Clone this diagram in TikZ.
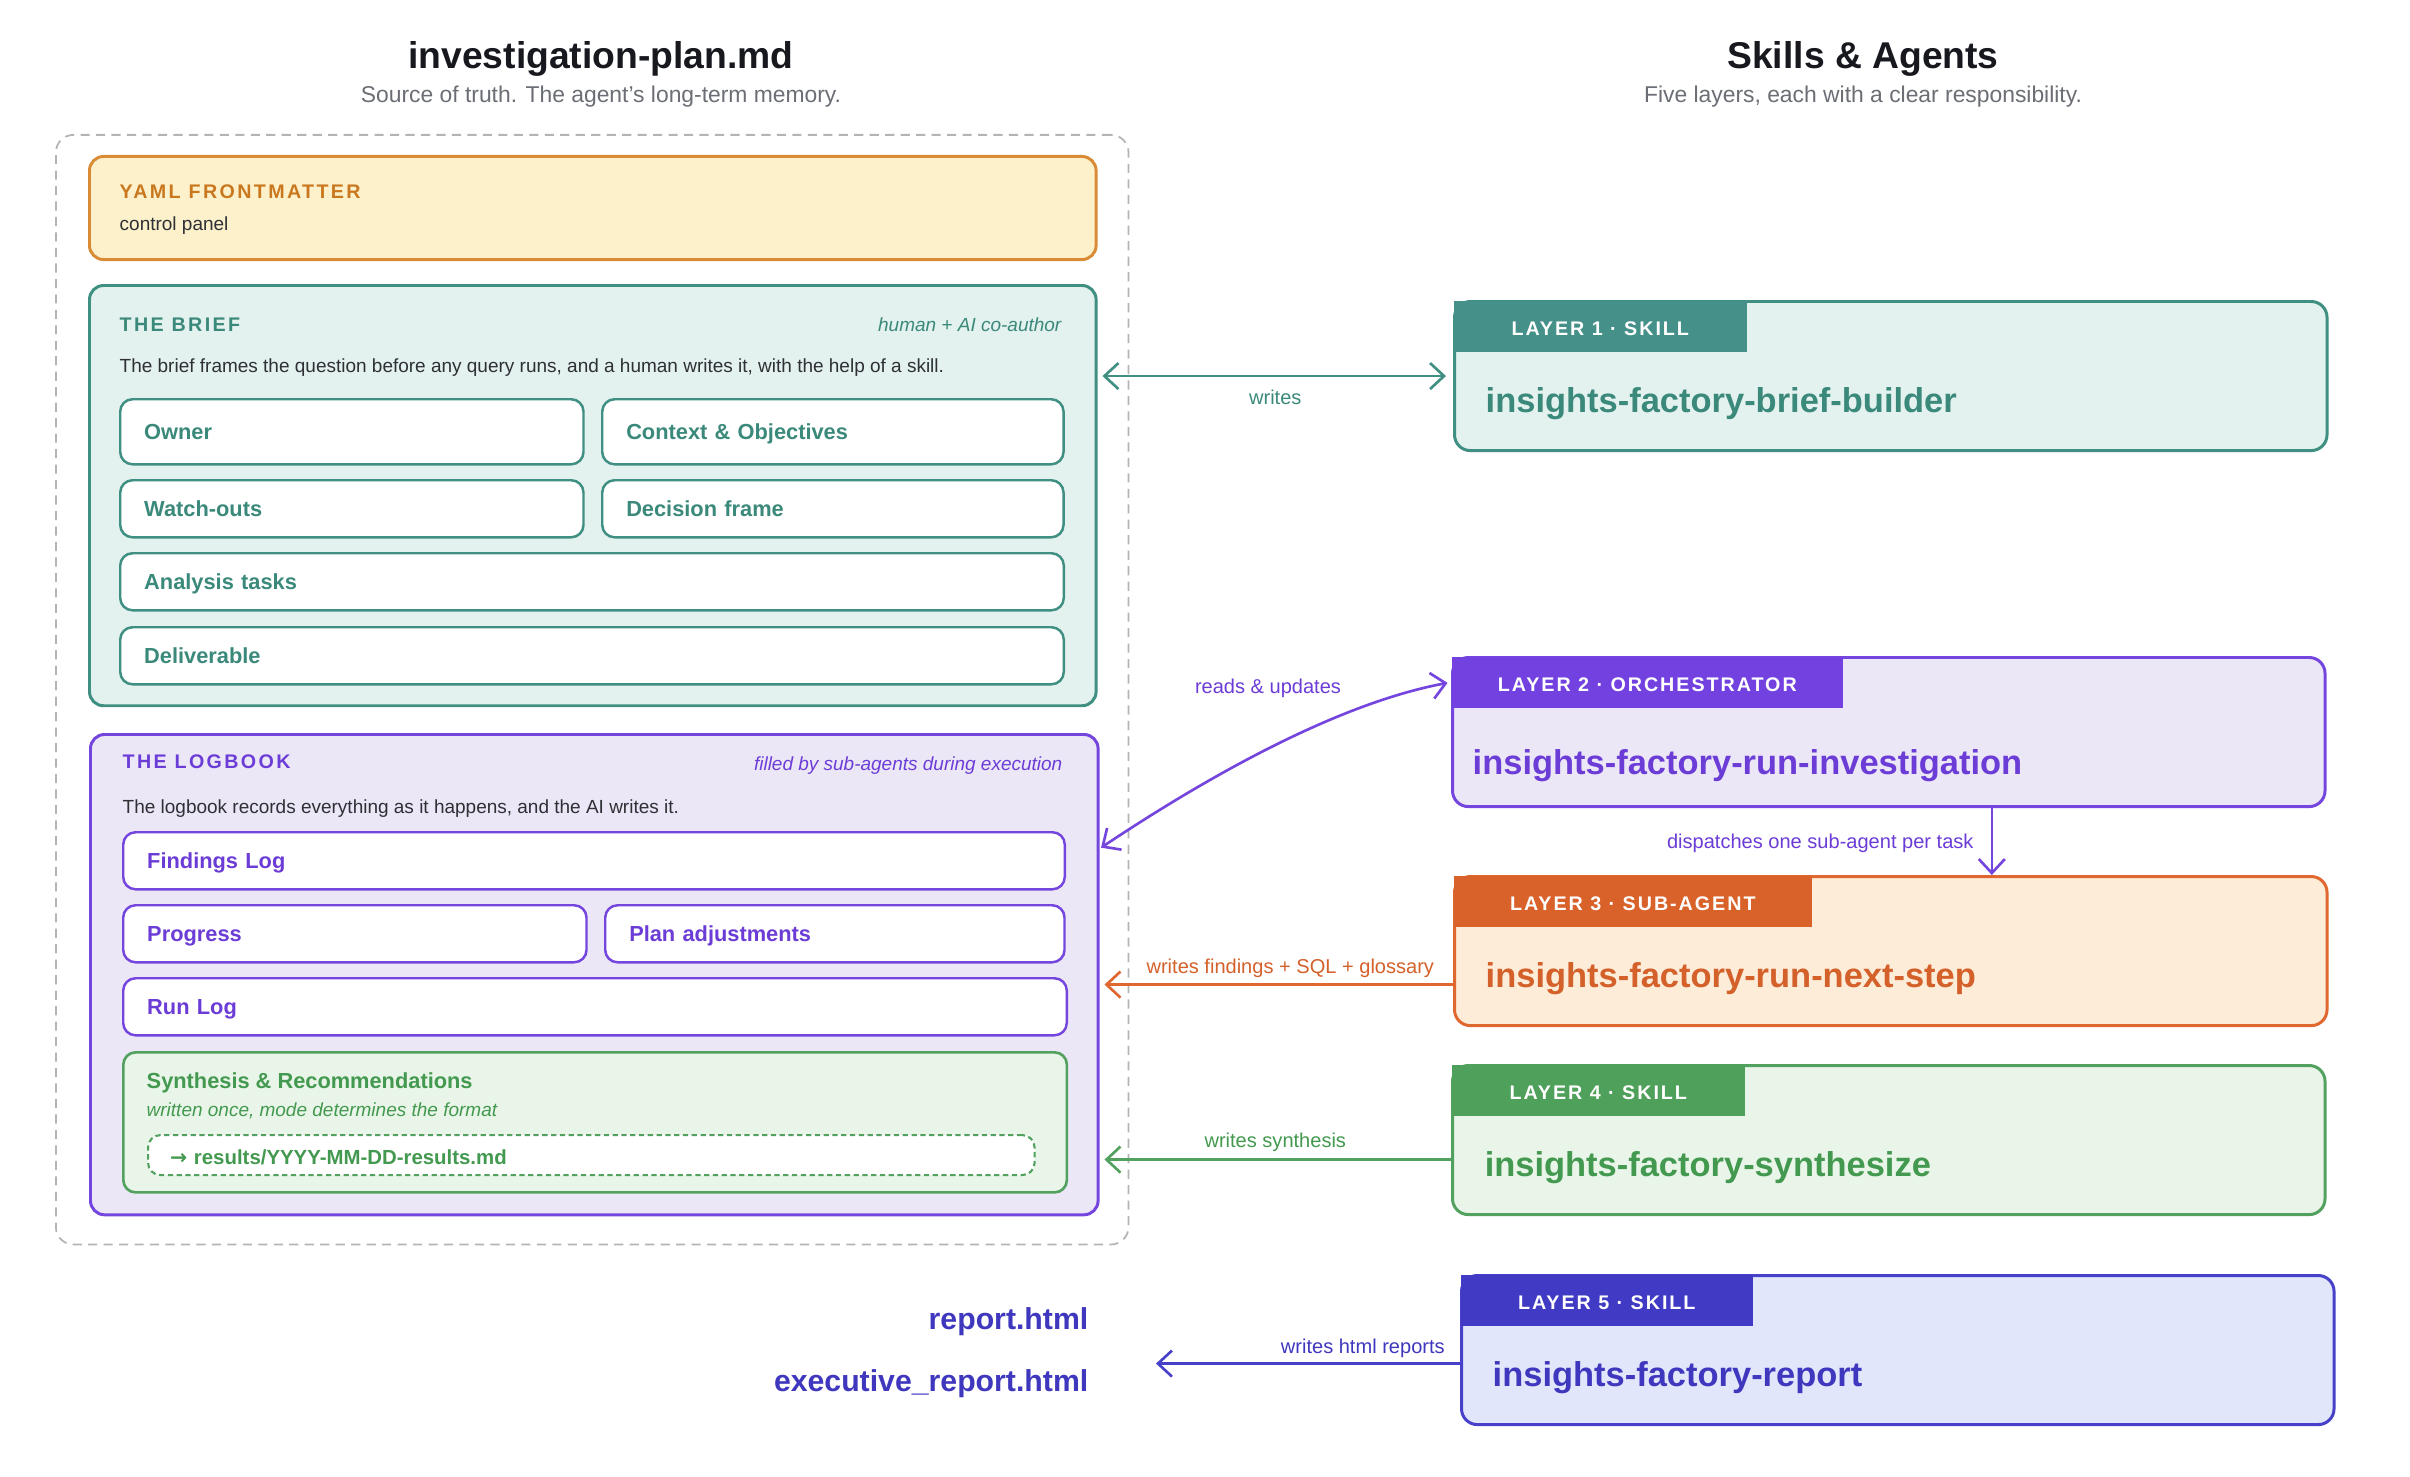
\documentclass[tikz,border=0pt]{standalone}
\usepackage{fontspec}
\setmainfont{Liberation Sans}
\newfontfamily\arrowfont{DejaVu Sans}
\usepackage{tikz}
\usetikzlibrary{arrows.meta}
\definecolor{inkdark}{HTML}{17191F}
\definecolor{inkbody}{HTML}{2E3035}
\definecolor{inkmuted}{HTML}{6B6E75}
\definecolor{dashgray}{HTML}{B4B4B4}
\definecolor{yellowfill}{HTML}{FDF1CB}
\definecolor{yellowline}{HTML}{D98C35}
\definecolor{yellowink}{HTML}{C9781F}
\definecolor{tealfill}{HTML}{E3F1EF}
\definecolor{tealline}{HTML}{3F8F82}
\definecolor{tealink}{HTML}{3A897A}
\definecolor{tealtag}{HTML}{46908A}
\definecolor{violetfill}{HTML}{ECE7F7}
\definecolor{violetline}{HTML}{7546DE}
\definecolor{violetink}{HTML}{6C3DD6}
\definecolor{violettag}{HTML}{7241E0}
\definecolor{orangefill}{HTML}{FDECD8}
\definecolor{orangeline}{HTML}{E0672F}
\definecolor{orangeink}{HTML}{D4602A}
\definecolor{orangetag}{HTML}{D9622B}
\definecolor{greenfill}{HTML}{E9F5E9}
\definecolor{greenline}{HTML}{52A15E}
\definecolor{greenink}{HTML}{43994F}
\definecolor{greentag}{HTML}{4FA05B}
\definecolor{indigofill}{HTML}{E1E6FB}
\definecolor{indigoline}{HTML}{4740C8}
\definecolor{indigoink}{HTML}{3F38BE}
\definecolor{indigotag}{HTML}{413AC4}
\tikzstyle{boxpanel} = [draw, line width=0.85pt, rounded corners=4pt, anchor=north west]
\tikzstyle{fieldbox} = [draw, fill=white, line width=0.7pt, rounded corners=3.5pt, anchor=north west, inner xsep=0.24cm, align=left, text height=4.6pt, text depth=0pt, font=\fontsize{6.2}{7}\selectfont\bfseries]
\tikzstyle{layerbox} = [draw, line width=0.85pt, rounded corners=4.5pt, anchor=north west, minimum width=8.72cm, minimum height=1.49cm]
\tikzstyle{layertag} = [anchor=north west, minimum height=0.51cm, text=white, text height=5.4pt, text depth=0pt, font=\fontsize{5.6}{7}\selectfont\bfseries\addfontfeature{LetterSpace=10}]
\tikzstyle{headline} = [anchor=base, text=inkdark, font=\fontsize{10.6}{12}\selectfont\bfseries]
\tikzstyle{subline} = [anchor=base, text=inkmuted, font=\fontsize{6.5}{8}\selectfont]
\tikzstyle{capslabel} = [anchor=base west, font=\fontsize{5.6}{7}\selectfont\bfseries\addfontfeature{LetterSpace=12}]
\tikzstyle{notelabel} = [anchor=base east, font=\fontsize{5.4}{7}\selectfont\itshape]
\tikzstyle{desctext} = [anchor=base west, text=inkbody, font=\fontsize{5.4}{7}\selectfont]
\tikzstyle{skillname} = [anchor=base west, font=\fontsize{9.8}{12}\selectfont\bfseries]
\tikzstyle{outname} = [anchor=base east, text=indigoink, font=\fontsize{8.6}{10}\selectfont\bfseries]
\tikzstyle{wire} = [line width=0.75pt, >={Straight Barb[length=1.4mm,width=2.6mm]}]
\tikzstyle{wirelabel} = [font=\fontsize{5.7}{7}\selectfont]

\begin{document}
\begin{tikzpicture}[x=0.01cm, y=-0.01cm, every node/.style={inner sep=0pt}]
\useasboundingbox (0,0) rectangle (2410,1476);
\fill[white] (0,0) rectangle (2410,1476);

\node[headline] (plantitle) at (601,69) {investigation-plan.md};
\node[subline] (plansub) at (601,103) {Source of truth. The agent's long-term memory.};
\node[headline] (skilltitle) at (1863,69) {Skills \& Agents};
\node[subline] (skillsub) at (1863,103) {Five layers, each with a clear responsibility.};

\node[draw=dashgray, line width=0.5pt, dash pattern=on 2.6pt off 1.8pt, rounded corners=5pt, anchor=north west, minimum width=10.72cm, minimum height=11.09cm] (doc) at (55,134) {};

\node[boxpanel, draw=yellowline, fill=yellowfill, minimum width=10.06cm, minimum height=1.03cm] (front) at (88,155) {};
\node[capslabel, text=yellowink] (fronttitle) at (119,199) {YAML FRONTMATTER};
\node[desctext] (frontdesc) at (119,231) {control panel};

\node[boxpanel, draw=tealline, fill=tealfill, minimum width=10.06cm, minimum height=4.20cm] (brief) at (88,284) {};
\node[capslabel, text=tealink] (brieftitle) at (119,331) {THE BRIEF};
\node[notelabel, text=tealink] (briefnote) at (1062,331) {human + AI co-author};
\node[desctext] (briefdesc) at (119,372) {The brief frames the question before any query runs, and a human writes it, with the help of a skill.};
\node[fieldbox, draw=tealline, text=tealink, text width=4.15cm, minimum height=0.65cm] (owner) at (119,398) {Owner};
\node[fieldbox, draw=tealline, text=tealink, text width=4.13cm, minimum height=0.65cm] (context) at (601,398) {Context \& Objectives};
\node[fieldbox, draw=tealline, text=tealink, text width=4.15cm, minimum height=0.57cm] (watch) at (119,479) {Watch-outs};
\node[fieldbox, draw=tealline, text=tealink, text width=4.13cm, minimum height=0.57cm] (decision) at (601,479) {Decision frame};
\node[fieldbox, draw=tealline, text=tealink, text width=8.95cm, minimum height=0.57cm] (analysis) at (119,552) {Analysis tasks};
\node[fieldbox, draw=tealline, text=tealink, text width=8.95cm, minimum height=0.57cm] (deliverable) at (119,626) {Deliverable};

\node[boxpanel, draw=violetline, fill=violetfill, minimum width=10.07cm, minimum height=4.80cm] (logbook) at (89,733) {};
\node[capslabel, text=violetink] (logtitle) at (122,768) {THE LOGBOOK};
\node[notelabel, text=violetink] (lognote) at (1063,770) {filled by sub-agents during execution};
\node[desctext] (logdesc) at (122,813) {The logbook records everything as it happens, and the AI writes it.};
\node[fieldbox, draw=violetline, text=violetink, text width=8.93cm, minimum height=0.57cm] (findings) at (122,831) {Findings Log};
\node[fieldbox, draw=violetline, text=violetink, text width=4.15cm, minimum height=0.57cm] (progress) at (122,904) {Progress};
\node[fieldbox, draw=violetline, text=violetink, text width=4.11cm, minimum height=0.57cm] (adjust) at (604,904) {Plan adjustments};
\node[fieldbox, draw=violetline, text=violetink, text width=8.95cm, minimum height=0.57cm] (runlog) at (122,977) {Run Log};
\node[boxpanel, draw=greenline, fill=greenfill, line width=0.75pt, rounded corners=3.5pt, minimum width=9.43cm, minimum height=1.40cm] (synth) at (122,1051) {};
\node[anchor=base west, text=greenink, font=\fontsize{6.2}{7}\selectfont\bfseries] (synthtitle) at (146,1088) {Synthesis \& Recommendations};
\node[notelabel, anchor=base west, text=greenink] (synthnote) at (146,1116) {written once, mode determines the format};
\node[fieldbox, draw=greenline, dash pattern=on 1.5pt off 1pt, line width=0.6pt, text=greenink, inner xsep=0.22cm, text width=8.42cm, minimum height=0.40cm, text height=5.6pt, font=\fontsize{5.8}{7}\selectfont\bfseries] (results) at (147,1134) {{\arrowfont\bfseries →} results/YYYY-MM-DD-results.md};

\node[layerbox, draw=tealline, fill=tealfill] (L1) at (1453,300) {};
\node[layertag, fill=tealtag, minimum width=2.93cm] (t1) at (L1.north west) {LAYER 1 · SKILL};
\node[skillname, text=tealink] (n1) at ([xshift=0.32cm, yshift=-1.12cm]L1.north west) {insights-factory-brief-builder};

\node[layerbox, draw=violetline, fill=violetfill] (L2) at (1451,656) {};
\node[layertag, fill=violettag, minimum width=3.91cm] (t2) at (L2.north west) {LAYER 2 · ORCHESTRATOR};
\node[skillname, text=violetink] (n2) at ([xshift=0.21cm, yshift=-1.18cm]L2.north west) {insights-factory-run-investigation};

\node[layerbox, draw=orangeline, fill=orangefill] (L3) at (1453,875) {};
\node[layertag, fill=orangetag, minimum width=3.58cm] (t3) at (L3.north west) {LAYER 3 · SUB-AGENT};
\node[skillname, text=orangeink] (n3) at ([xshift=0.32cm, yshift=-1.12cm]L3.north west) {insights-factory-run-next-step};

\node[layerbox, draw=greenline, fill=greenfill] (L4) at (1451,1064) {};
\node[layertag, fill=greentag, minimum width=2.93cm] (t4) at (L4.north west) {LAYER 4 · SKILL};
\node[skillname, text=greenink] (n4) at ([xshift=0.33cm, yshift=-1.12cm]L4.north west) {insights-factory-synthesize};

\node[layerbox, draw=indigoline, fill=indigofill] (L5) at (1460,1274) {};
\node[layertag, fill=indigotag, minimum width=2.92cm] (t5) at (L5.north west) {LAYER 5 · SKILL};
\node[skillname, text=indigoink] (n5) at ([xshift=0.32cm, yshift=-1.12cm]L5.north west) {insights-factory-report};

\node[outname] (reporthtml) at (1089,1329) {report.html};
\node[outname] (exechtml) at (1089,1391) {executive\_report.html};
\coordinate (htmlout) at (1156,1362);

\draw[wire, tealline, <->, shorten <=1.4pt, shorten >=2pt] (brief.east |- L1.west) -- (L1.west) node[wirelabel, text=tealink, midway, anchor=base, yshift=-0.28cm] (w1) {writes};
\draw[wire, violetline, <->, shorten <=0.5pt, shorten >=1pt] (logbook.14) .. controls +(120,-80) and +(-107,20) .. (t2.west);
\node[wirelabel, text=violetink, anchor=base] (w2) at (1268,693) {reads \& updates};
\draw[wire, violetline, ->] ([xshift=1.03cm]L2.south) coordinate (d0) -- (d0 |- L3.north) node[wirelabel, text=violetink, pos=0.61, anchor=base east, xshift=-0.17cm] (w3) {dispatches one sub-agent per task};
\draw[wire, orangeline, ->, shorten >=1.4pt] ([yshift=-0.335cm]L3.west) coordinate (f0) -- (f0 -| logbook.east) node[wirelabel, text=orangeink, midway, anchor=base, xshift=0.14cm, yshift=0.11cm] (w4) {writes findings + SQL + glossary};
\draw[wire, greenline, ->, shorten >=1.4pt] ([yshift=-0.195cm]L4.west) coordinate (s0) -- (s0 -| logbook.east) node[wirelabel, text=greenink, midway, anchor=base, yshift=0.12cm] (w5) {writes synthesis};
\draw[wire, indigoline, ->] ([yshift=-0.135cm]L5.west) coordinate (h0) -- (h0 -| htmlout) node[wirelabel, text=indigoink, pos=0, anchor=base east, xshift=-0.14cm, yshift=0.10cm] (w6) {writes html reports};
\end{tikzpicture}
\end{document}
